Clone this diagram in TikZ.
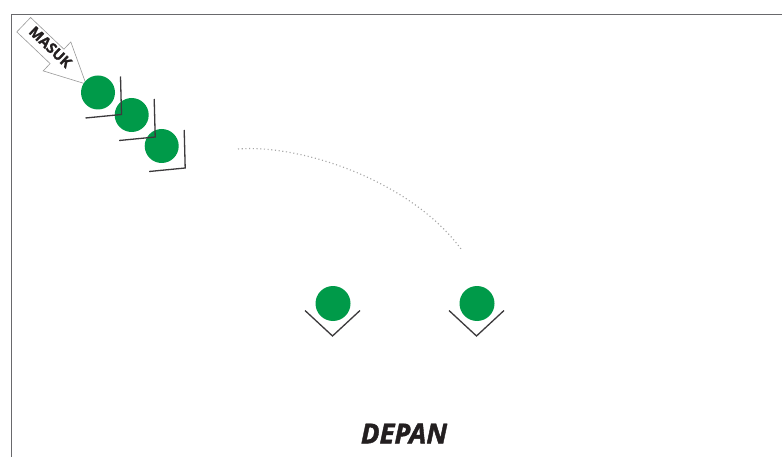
\documentclass[tikz,border=0pt]{standalone}
\usepackage{fontspec}
\setmainfont{Open Sans}
\definecolor{pgreen}{RGB}{0,154,73}
\definecolor{guardgray}{RGB}{60,58,60}
\definecolor{framegray}{RGB}{105,105,108}
\definecolor{textdark}{RGB}{35,31,32}
\begin{document}
\begin{tikzpicture}[x=1pt,y=-1pt,
  player/.style={circle,fill=pgreen,minimum size=34pt,inner sep=0pt},
  guard/.style={draw=guardgray,line width=1.3pt,line join=miter},
  framestyle/.style={draw=framegray,line width=1.5pt},
  entryarrow/.style={draw=gray!80,fill=white,line width=0.6pt,line join=miter},
  pathdots/.style={draw=gray!70,line width=1.1pt,dash pattern=on 1.1pt off 2.6pt},
  label/.style={text=textdark,inner sep=0pt}]
\useasboundingbox (0,0) rectangle (782,457);
\fill[white] (0,0) rectangle (782,457);

% court border (top and left sides)
\draw[framestyle] (11.5,457) -- (11.5,14.5) -- (782,14.5);

% entry arrow
\draw[entryarrow] (16.8,31.9) -- (30.6,17.5) -- (63.9,49.2) -- (70.8,41.9)
  -- (86,84) -- (43.2,70.9) -- (50.1,63.6) -- cycle;
\node[label,rotate=-43.6,font=\bfseries\fontsize{14.5}{14.5}\selectfont\addfontfeature{FakeBold=1.2}] (masuk) at (50.5,47) {MASUK};

% queue of players with their corner markers
\node[player] (q1) at (98,92.5) {};
\node[player] (q2) at (131.7,115) {};
\node[player] (q3) at (161.7,146) {};
\foreach \p in {q1,q2,q3}{
  \draw[guard] ([shift={(22.5,-16)}]\p.center) -- ([shift={(23.5,22)}]\p.center)
    -- ([shift={(-12.5,25.5)}]\p.center);
}

% players at the front
\node[player,minimum size=35pt] (f1) at (333,303.5) {};
\node[player,minimum size=35pt] (f2) at (477,303.5) {};
\foreach \p in {f1,f2}{
  \draw[guard] ([shift={(-28,7)}]\p.center) -- ([shift={(-0.5,32.5)}]\p.center)
    -- ([shift={(27,7)}]\p.center);
}

% movement path
\coordinate (m0) at (238,149);
\coordinate (m1) at (461,249);
\draw[pathdots] (m0) .. controls (300,144) and (410,180) .. (m1);

% front label
\node[label,font=\bfseries\itshape\fontsize{27.5}{27.5}\selectfont\addfontfeature{FakeBold=1.5}] (depan) at (404,433.5) {DEPAN};
\end{tikzpicture}
\end{document}
